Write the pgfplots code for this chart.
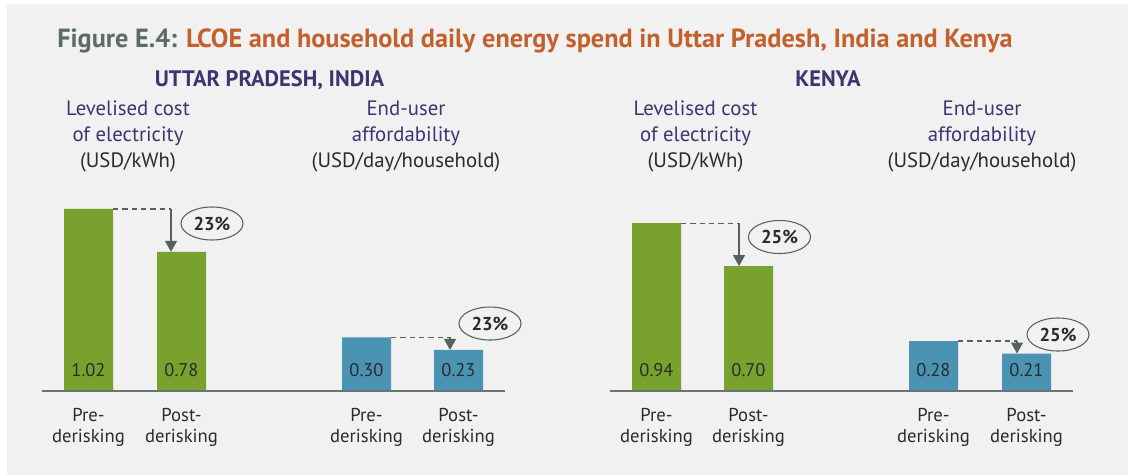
\documentclass[border=0pt]{standalone}
\usepackage{fontspec}
\setmainfont{PT Sans}
\usepackage{pgfplots}
\pgfplotsset{compat=1.18}
\usetikzlibrary{shapes.geometric, arrows.meta}
\definecolor{bg}{HTML}{F0F1F0}
\definecolor{barGreen}{HTML}{78A12D}
\definecolor{barBlue}{HTML}{4A93B3}
\definecolor{titlegrey}{HTML}{5B6B68}
\definecolor{titleorange}{HTML}{C4602C}
\definecolor{navy}{HTML}{3B3670}
\definecolor{textdark}{HTML}{2B2B2B}
\definecolor{axisgrey}{HTML}{6A7572}
\definecolor{arrowgrey}{HTML}{56625F}
\begin{document}
\begin{tikzpicture}[x=0.75pt, y=-0.75pt]
\fill[white] (0,0) rectangle (1128,475);
\fill[bg] (7,4) rectangle (1128,475);
% title
\node[anchor=base west, inner sep=0pt, font=\fontsize{19.7}{22}\selectfont\bfseries] at (57,47)
  {\textcolor{titlegrey}{Figure E.4:} \textcolor{titleorange}{LCOE and household daily energy spend in Uttar Pradesh, India and Kenya}};
% panel headers
\begin{scope}[every node/.style={anchor=base, inner sep=0pt, text=navy}]
\node[font=\fontsize{16.8}{19}\selectfont\bfseries] at (269.5,86) {UTTAR PRADESH, INDIA};
\node[font=\fontsize{16.8}{19}\selectfont\bfseries] at (828,86) {KENYA};
\foreach \cx/\la/\lb/\lc in {128/{Levelised cost}/{of electricity}/{(USD/kWh)}, 406/{End-user}/{affordability}/{(USD/day/household)}, 695.5/{Levelised cost}/{of electricity}/{(USD/kWh)}, 982/{End-user}/{affordability}/{(USD/day/household)}}{
  \node[font=\fontsize{15.6}{18}\selectfont] at (\cx,115) {\la};
  \node[font=\fontsize{15.6}{18}\selectfont] at (\cx,141) {\lb};
  \node[font=\fontsize{15.6}{18}\selectfont, text=textdark] at (\cx,167) {\lc};
}
\end{scope}
\begin{axis}[
  at={(5.25pt,-293.25pt)}, anchor=south west,
  scale only axis, width=840.75pt, height=290.25pt,
  xmin=7, xmax=1128, ymin=0, ymax=2.16807,
  axis line style={draw=none}, ytick=\empty,
  xtick={88.5,181.5,366.5,458.5,656.5,748.5,933.5,1026.5},
  xticklabels={{Pre-\\derisking},{Post-\\derisking},{Pre-\\derisking},{Post-\\derisking},{Pre-\\derisking},{Post-\\derisking},{Pre-\\derisking},{Post-\\derisking}},
  major tick length=0pt,
  xticklabel style={align=center, font=\fontsize{14}{15.75}\selectfont, text=textdark, anchor=north, inner sep=0pt, yshift=-12.75pt},
  clip=false,
  nodes near coords={\pgfmathprintnumber[fixed, fixed zerofill, precision=2, assume math mode=true]{\pgfplotspointmeta}},
  visualization depends on={rawy \as \rawy},
  every node near coord/.append style={shift={(axis direction cs:0,-\rawy)}, anchor=base, yshift=11.25pt, inner sep=0pt, font=\fontsize{13.8}{15}\selectfont, text=textdark},
]
\addplot[ybar, bar width=49, bar shift=0pt, fill=barGreen, draw=none]
  coordinates {(88.5,1.02) (181.5,0.78) (656.5,0.94) (748.5,0.70)};
\addplot[ybar, bar width=49, bar shift=0pt, fill=barBlue, draw=none]
  coordinates {(366.5,0.30) (458.5,0.23) (933.5,0.28) (1026.5,0.21)};
% baselines
\draw[axisgrey, line width=1.1pt] (axis cs:42,0) -- (axis cs:505,0);
\draw[axisgrey, line width=1.1pt] (axis cs:610,0) -- (axis cs:1073,0);
% change annotations
\begin{scope}[arrowgrey, line width=1pt]
\draw[dash pattern=on 4pt off 3pt] (axis cs:113,1.02) -- (axis cs:171,1.02);
\draw[-{Triangle[width=9pt,length=8.25pt]}] (axis cs:171,1.02) -- (axis cs:171,0.78);
\draw[dash pattern=on 4pt off 3pt] (axis cs:391,0.30) -- (axis cs:450,0.30);
\draw[-{Triangle[width=9pt,length=8.25pt]}] (axis cs:450,0.30) -- (axis cs:450,0.23);
\draw[dash pattern=on 4pt off 3pt] (axis cs:681,0.94) -- (axis cs:739,0.94);
\draw[-{Triangle[width=9pt,length=8.25pt]}] (axis cs:739,0.94) -- (axis cs:739,0.70);
\draw[dash pattern=on 4pt off 3pt] (axis cs:958,0.28) -- (axis cs:1017,0.28);
\draw[-{Triangle[width=9pt,length=8.25pt]}] (axis cs:1017,0.28) -- (axis cs:1017,0.21);
\end{scope}
\begin{scope}[every node/.style={ellipse, draw=arrowgrey, line width=0.8pt, minimum width=46.5pt, minimum height=24.75pt, inner sep=0pt, font=\fontsize{14}{15}\selectfont\bfseries, text=textdark}]
\node at (axis cs:212,0.9384) {23\%};
\node at (axis cs:490,0.378) {23\%};
\node at (axis cs:779.5,0.8627) {25\%};
\node at (axis cs:1058,0.3165) {25\%};
\end{scope}
\end{axis}
\end{tikzpicture}
\end{document}
